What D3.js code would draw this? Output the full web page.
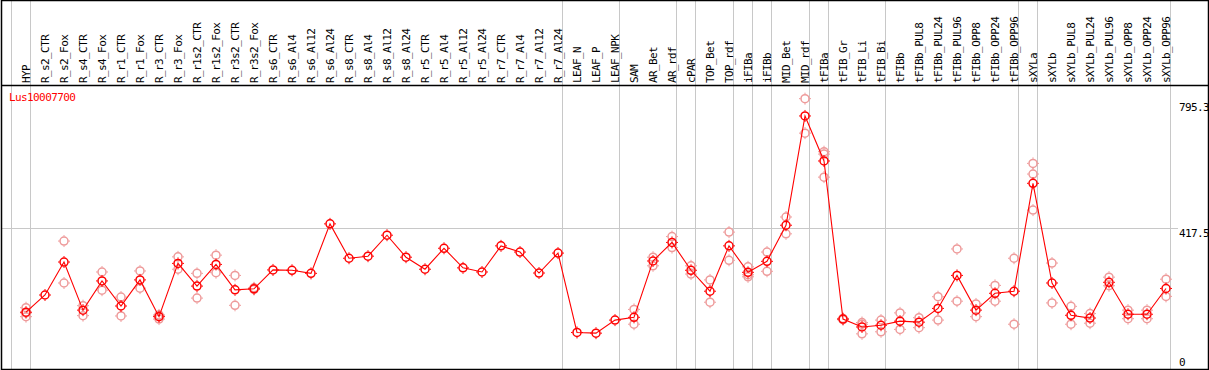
<!DOCTYPE html>
<html>
<head>
<meta charset="utf-8">
<script src="https://cdn.jsdelivr.net/npm/d3@7"></script>
<style>
  html, body { margin: 0; padding: 0; background: #fff; }
  svg { display: block; }
  text { font-family: "DejaVu Sans Mono", monospace; }
</style>
</head>
<body>
<script>
// ** Data
const categories = [
  "HYP", "R_s2_CTR", "R_s2_Fox", "R_s4_CTR", "R_s4_Fox", "R_r1_CTR", "R_r1_Fox",
  "R_r3_CTR", "R_r3_Fox", "R_r1s2_CTR", "R_r1s2_Fox", "R_r3s2_CTR", "R_r3s2_Fox",
  "R_s6_CTR", "R_s6_Al4", "R_s6_Al12", "R_s6_Al24", "R_s8_CTR", "R_s8_Al4",
  "R_s8_Al12", "R_s8_Al24", "R_r5_CTR", "R_r5_Al4", "R_r5_Al12", "R_r5_Al24",
  "R_r7_CTR", "R_r7_Al4", "R_r7_Al12", "R_r7_Al24", "LEAF_N", "LEAF_P", "LEAF_NPK",
  "SAM", "AR_Bet", "AR_rdf", "cPAR", "TOP_Bet", "TOP_rdf", "iFIBa", "iFIBb",
  "MID_Bet", "MID_rdf", "tFIBa", "tFIB_Gr", "tFIB_Li", "tFIB_Bi", "tFIBb",
  "tFIBb_PUL8", "tFIBb_PUL24", "tFIBb_PUL96", "tFIBb_OPP8", "tFIBb_OPP24",
  "tFIBb_OPP96", "sXYLa", "sXYLb", "sXYLb_PUL8", "sXYLb_PUL24", "sXYLb_PUL96",
  "sXYLb_OPP8", "sXYLb_OPP24", "sXYLb_OPP96"
];

// number of categories in each tissue group (grid line after each group)
const groupSizes = [1, 28, 3, 3, 1, 2, 1, 1, 2, 1, 3, 7, 1, 7];

const means = [
  174, 224, 320, 180, 265, 192, 268, 161, 316, 250, 313, 239, 242,
  297, 296, 287, 431, 331, 337, 398, 334, 299, 360, 303, 291, 367, 349, 288, 346,
  115, 113, 151,
  159, 323, 377, 296, 235, 367, 290, 322, 427, 745, 614,
  154, 131, 136, 148, 145, 185, 281, 180, 229, 235,
  549, 259, 165, 157, 261, 168, 168, 243
];

const replicates = [
  [187, 172, 161], [], [381, 259], [193, 164], [291, 238], [218, 163], [294, 244],
  [166, 163, 154], [335, 299], [287, 215], [340, 289], [281, 194], [245, 240],
  [], [], [], [], [], [], [], [], [], [], [], [], [], [], [], [],
  [], [], [],
  [182, 139], [334, 309], [394, 362], [309, 285], [268, 203], [407, 325],
  [306, 277, 283], [349, 293], [451, 402], [795.3, 695], [641, 634, 567],
  [156, 152], [144, 111, 139], [151, 117], [172, 124], [158, 129], [219, 151],
  [358, 206], [198, 161], [252, 206], [331, 139],
  [607, 576, 471], [317, 201], [191, 139], [170, 142], [276, 251],
  [180, 155], [180, 155], [270, 220]
];

const title = "Lus10007700";
const yMax = 795.3;
const yTicks = [795.3, 417.5, 0];

// ** Layout
const width = 1209;
const height = 370;
const headerY = 85;

const svg = d3.select("body")
  .append("svg")
  .attr("width", width)
  .attr("height", height);

const x = d3.scalePoint()
  .domain(categories)
  .range([26, 1166]);
const step = x.step();

const y = d3.scaleLinear()
  .domain([0, yMax * 1.05])
  .range([372, headerY]);

// ** Grid
const grid = svg.append("g").attr("stroke", "#c8c8c8").attr("stroke-width", 1);

// vertical separators between tissue groups
let idx = -1;
const sepX = [Math.floor(x(categories[0]) - step + 4) + 0.5];
groupSizes.forEach(n => {
  idx += n;
  sepX.push(Math.floor(x(categories[idx]) + 4) + 0.5);
});

grid.selectAll("line.v")
  .data(sepX)
  .join("line")
  .attr("class", "v")
  .attr("x1", d => d).attr("x2", d => d)
  .attr("y1", 0).attr("y2", height);

// horizontal mid line
const midY = Math.floor(y(yTicks[1])) + 0.5;
grid.append("line")
  .attr("x1", 2).attr("x2", 1178)
  .attr("y1", midY).attr("y2", midY);

// ** Frame
svg.append("rect")
  .attr("x", 1.5).attr("y", 0.5)
  .attr("width", 1207).attr("height", 369)
  .attr("fill", "none")
  .attr("stroke", "#000")
  .attr("stroke-width", 1.5);

svg.append("line")
  .attr("x1", 1).attr("x2", 1209)
  .attr("y1", headerY + 0.5).attr("y2", headerY + 0.5)
  .attr("stroke", "#000")
  .attr("stroke-width", 1.5);

// ** Column labels (rotated)
svg.append("g")
  .selectAll("text")
  .data(categories)
  .join("text")
  .attr("transform", d => `translate(${x(d) + 4},${headerY - 2}) rotate(-90)`)
  .attr("font-size", 11)
  .attr("letter-spacing", -0.6)
  .attr("fill", "#000")
  .text(d => d);

// ** Title
svg.append("text")
  .attr("x", 9)
  .attr("y", 101)
  .attr("font-size", 11)
  .attr("letter-spacing", -0.6)
  .attr("fill", "#ff0000")
  .text(title);

// ** Right axis labels
const axisLabels = svg.append("g")
  .attr("font-size", 11)
  .attr("letter-spacing", -0.6)
  .attr("fill", "#000");
axisLabels.append("text").attr("x", 1179).attr("y", 111).text(d3.format(".1f")(yTicks[0]));
axisLabels.append("text").attr("x", 1179).attr("y", midY + 8).text(d3.format(".1f")(yTicks[1]));
axisLabels.append("text").attr("x", 1179).attr("y", 366).text(yTicks[2]);

// ** Replicate points
const repPoints = [];
replicates.forEach((reps, i) => {
  reps.forEach(v => repPoints.push({ cat: categories[i], v }));
});

const marker = (g, color) => {
  g.append("circle")
    .attr("r", 4)
    .attr("fill", "none")
    .attr("stroke", color)
    .attr("stroke-width", 1.5);
  // small spikes at the four sides
  g.append("path")
    .attr("d", "M0,-6V-4.5M0,4.5V6M-6,0H-4.5M4.5,0H6")
    .attr("stroke", color)
    .attr("stroke-width", 1);
};

svg.append("g")
  .selectAll("g")
  .data(repPoints)
  .join("g")
  .attr("transform", d => `translate(${x(d.cat)},${y(d.v)})`)
  .each(function () { marker(d3.select(this), "#ee9a9a"); });

// ** Mean line
const line = d3.line()
  .x((d, i) => x(categories[i]))
  .y(d => y(d));

svg.append("path")
  .datum(means)
  .attr("d", line)
  .attr("fill", "none")
  .attr("stroke", "#ff0000")
  .attr("stroke-width", 1.1);

svg.append("g")
  .selectAll("g")
  .data(means)
  .join("g")
  .attr("transform", (d, i) => `translate(${x(categories[i])},${y(d)})`)
  .each(function () { marker(d3.select(this), "#ff0000"); });
</script>
</body>
</html>
